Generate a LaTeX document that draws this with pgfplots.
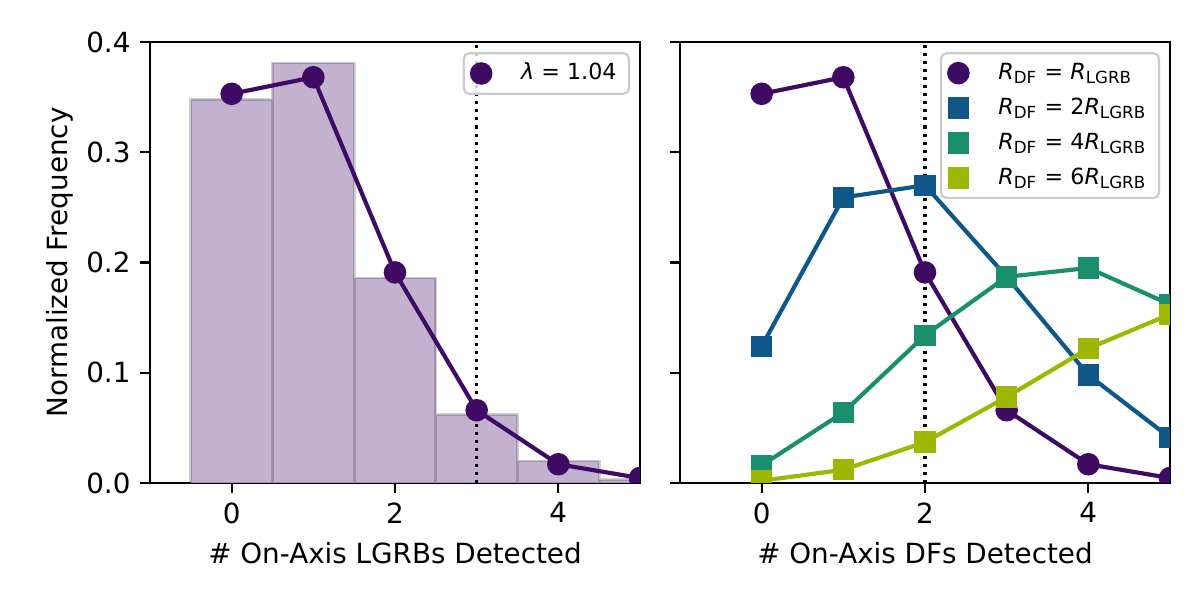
\documentclass[border=0pt]{standalone}
\usepackage{fontspec}
\setmainfont{DejaVu Sans}
\usepackage{pgfplots}
\pgfplotsset{compat=1.18}
\definecolor{cA}{HTML}{3F0A64}
\definecolor{cB}{HTML}{0F5788}
\definecolor{cC}{HTML}{1A8F6E}
\definecolor{cD}{HTML}{9EB700}
\definecolor{hfill}{RGB}{194,178,208}
\pgfplotsset{
  base/.style={
    scale only axis, width=176.4pt, height=158.76pt,
    xmin=-1, xmax=5, ymin=0, ymax=0.4,
    xtick={0,2,4}, ytick={0,0.1,0.2,0.3,0.4},
    yticklabel style={/pgf/number format/.cd, fixed, fixed zerofill, precision=1},
    /pgf/number format/assume math mode=true,
    tick align=outside, major tick length=3.5pt,
    xtick pos=bottom, ytick pos=left,
    axis line style={line width=0.8pt}, every tick/.style={black, line width=0.8pt},
    tick label style={font=\fontsize{10}{12}\selectfont},
    label style={font=\fontsize{10}{12}\selectfont},
    clip marker paths=true,
    legend cell align=left,
    legend style={at={(rel axis cs:0.98,0.977)}, anchor=north east, draw=black!20, line width=0.8pt,
      rounded corners=2pt, fill=white, fill opacity=0.8, text opacity=1, draw opacity=1,
      font=\fontsize{8}{9.5}\selectfont, inner xsep=3pt, inner ysep=2pt,
      row sep=2.2pt, nodes={inner sep=1.5pt}},
    legend image code/.code={\draw[#1, opacity=1, fill opacity=1, draw opacity=1] plot[only marks] coordinates {(0.25cm,0cm)};},
  },
  circ/.style={color=#1, line width=1.5pt, mark=*, mark size=3.3pt, mark options={solid, fill=#1, draw=#1}},
  sq/.style={color=#1, line width=1.5pt, mark=square*, mark size=3.1pt, mark options={solid, fill=#1, draw=#1}},
  vdot/.style={black, line width=1.1pt, dash pattern=on 1.1pt off 1.8pt, forget plot},
}
\begin{document}
\begin{tikzpicture}
\path[use as bounding box] (0,0) rectangle (432pt,216pt);
\begin{axis}[base, at={(54pt,42.12pt)}, anchor=south west,
  xlabel={\# On-Axis LGRBs Detected}, ylabel={Normalized Frequency},
  every axis y label/.style={at={(axis description cs:-0.184,0.5)}, rotate=90, anchor=center}]
\addplot[ybar interval, fill=hfill, draw=black, draw opacity=0.18, line width=1pt, forget plot]
  coordinates {(-0.5,0.348) (0.5,0.381) (1.5,0.186) (2.5,0.062) (3.5,0.020) (4.5,0.003) (5.5,0.003)};
\addplot[vdot] coordinates {(3,0) (3,0.4)};
\addplot[circ=cA] coordinates {(0,0.353) (1,0.368) (2,0.191) (3,0.066) (4,0.017) (5,0.0045)};
\addlegendentry{\hspace{1.2em}\textit{λ} = 1.04}
\end{axis}
\begin{axis}[base, at={(244.8pt,42.12pt)}, anchor=south west,
  xlabel={\# On-Axis DFs Detected}, yticklabels={}]
\addplot[vdot] coordinates {(2,0) (2,0.4)};
\addplot[circ=cA] coordinates {(0,0.353) (1,0.368) (2,0.191) (3,0.066) (4,0.017) (5,0.0045)};
\addlegendentry{\hspace{1.2em}\textit{R}\textsubscript{DF} = \textit{R}\textsubscript{LGRB}}
\addplot[sq=cB] coordinates {(0,0.124) (1,0.259) (2,0.270) (3,0.187) (4,0.098) (5,0.041)};
\addlegendentry{\hspace{1.2em}\textit{R}\textsubscript{DF} = 2\textit{R}\textsubscript{LGRB}}
\addplot[sq=cC] coordinates {(0,0.016) (1,0.064) (2,0.134) (3,0.187) (4,0.195) (5,0.162)};
\addlegendentry{\hspace{1.2em}\textit{R}\textsubscript{DF} = 4\textit{R}\textsubscript{LGRB}}
\addplot[sq=cD] coordinates {(0,0.002) (1,0.012) (2,0.037) (3,0.078) (4,0.122) (5,0.153)};
\addlegendentry{\hspace{1.2em}\textit{R}\textsubscript{DF} = 6\textit{R}\textsubscript{LGRB}}
\end{axis}
\end{tikzpicture}
\end{document}
